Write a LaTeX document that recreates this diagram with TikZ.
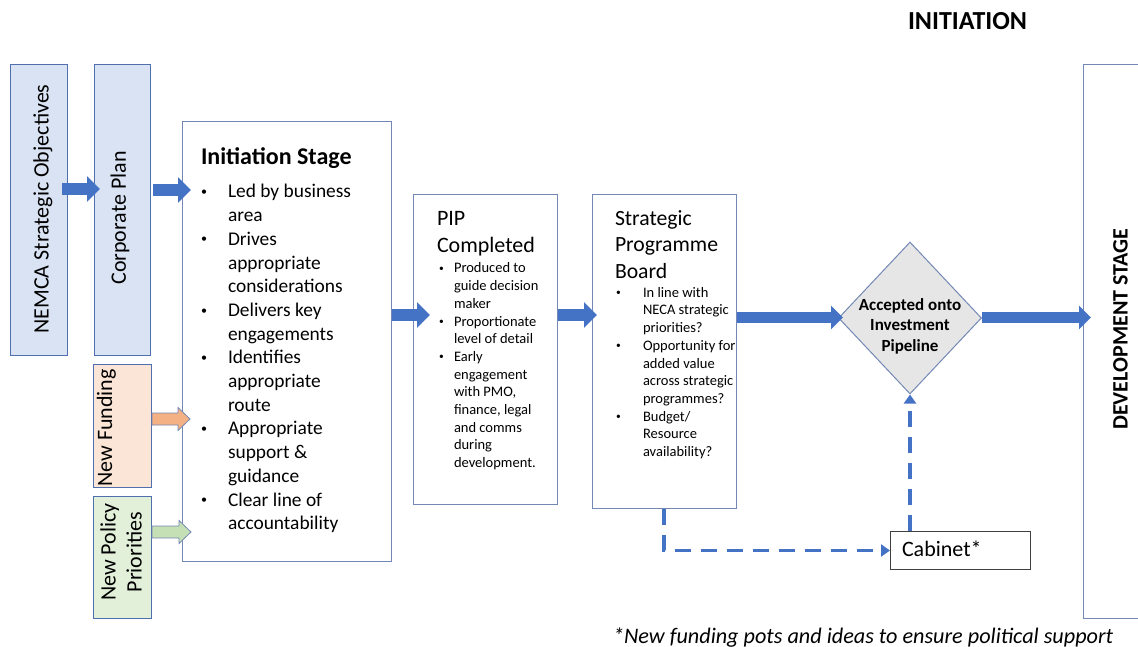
\documentclass[tikz,border=0pt]{standalone}
\usepackage{fontspec}
\setmainfont{Carlito}
\usetikzlibrary{arrows.meta,shapes.geometric,calc}
\definecolor{arrblue}{HTML}{4472C4}
\definecolor{edgeA}{HTML}{4F6FAE}
\definecolor{edgeB}{HTML}{7388B5}
\definecolor{fillBlue}{HTML}{DAE3F3}
\definecolor{fillPeach}{HTML}{FBE5D6}
\definecolor{fillGreen}{HTML}{E2F0D9}
\definecolor{arrOrange}{HTML}{F4B183}
\definecolor{arrGreen}{HTML}{C5E0B4}
\definecolor{diaGray}{HTML}{E7E6E6}
\definecolor{cabEdge}{HTML}{404040}
\newcommand\bigbul{\raisebox{2.4pt}{\fontsize{12}{12}\selectfont\textbullet}}
\newcommand\smallbul{\raisebox{1.8pt}{\fontsize{9.5}{10}\selectfont\textbullet}}
\begin{document}
\begin{tikzpicture}[x=1pt,y=-1pt,
  sidebox/.style={draw=edgeA,line width=1pt,anchor=north west,inner sep=0pt},
  stagebox/.style={draw=edgeB,line width=1pt,fill=white,anchor=north west,inner sep=0pt},
  txt/.style={inner sep=0pt,outer sep=0pt},
  bigarrow/.style={draw=arrblue,line width=12pt,-{Triangle[length=13pt,width=25pt]}},
  fatarrow/.style={draw=arrblue,line width=11pt,-{Triangle[length=12pt,width=23pt]}},
  dashline/.style={draw=arrblue,line width=3.5pt,dash pattern=on 16pt off 10pt,-{Triangle[length=9pt,width=12pt]}},
  outarrow/.style={draw=edgeB,line width=0.8pt,line join=miter}
]
\useasboundingbox (0,0) rectangle (1138,647);

% ---- boxes ----
\node[sidebox,fill=fillBlue,minimum width=57pt,minimum height=291pt] (nemca) at (10,64) {};
\node[sidebox,fill=fillBlue,minimum width=56pt,minimum height=291pt] (corp) at (94,64) {};
\node[sidebox,fill=fillPeach,minimum width=58pt,minimum height=123pt] (fund) at (93,364) {};
\node[sidebox,fill=fillGreen,minimum width=58pt,minimum height=122pt] (pol) at (93,496) {};
\node[stagebox,minimum width=209pt,minimum height=440pt] (init) at (182,121) {};
\node[stagebox,minimum width=144pt,minimum height=310pt] (pip) at (413,194) {};
\node[stagebox,minimum width=144pt,minimum height=314pt] (spb) at (592,194) {};
\node[diamond,draw=edgeB,line width=1pt,fill=diaGray,minimum width=143pt,minimum height=152pt,inner sep=0pt] (dia) at (910,318) {};
\node[stagebox,minimum width=62pt,minimum height=554pt] (dev) at (1083,64) {};
\node[draw=cabEdge,line width=1pt,anchor=north west,inner sep=0pt,minimum width=140pt,minimum height=38pt,fill=white] (cab) at (890,531) {};

% ---- rotated side texts ----
\node[txt,rotate=90,font=\fontsize{22}{26}\selectfont] (tnemca) at (43,209) {NEMCA Strategic Objectives};
\node[txt,rotate=90,font=\fontsize{22}{26}\selectfont] (tcorp) at (120,218) {Corporate Plan};
\node[txt,rotate=90,font=\fontsize{22}{26}\selectfont] (tfund) at (106.5,428) {New Funding};
\node[txt,rotate=90,align=center,font=\fontsize{22}{26}\selectfont] (tpol) at (121,552) {New Policy\\Priorities};

% ---- Initiation stage text ----
\node[txt,anchor=base west,font=\bfseries\fontsize{24}{29}\selectfont] (tinit) at (201,165) {Initiation Stage};
\node[txt,anchor=north west,font=\fontsize{19.4}{23.7}\selectfont] (linit) at (201,181.4) {%
\begin{tabular}{@{}p{27pt}@{}l@{}}
\bigbul & Led by business\\
 & area\\
\bigbul & Drives\\
 & appropriate\\
 & considerations\\
\bigbul & Delivers key\\
 & engagements\\
\bigbul & Identifies\\
 & appropriate\\
 & route\\
\bigbul & Appropriate\\
 & support \&\\
 & guidance\\
\bigbul & Clear line of\\
 & accountability
\end{tabular}};

% ---- PIP text ----
\node[txt,anchor=north west,font=\fontsize{22}{27}\selectfont] (tpip) at (437,206.1) {%
\begin{tabular}{@{}l@{}}PIP\\Completed\end{tabular}};
\node[txt,anchor=north west,font=\fontsize{14.5}{17.7}\selectfont] (lpip) at (439,260.6) {%
\begin{tabular}{@{}p{15pt}@{}l@{}}
\smallbul & Produced to\\
 & guide decision\\
 & maker\\
\smallbul & Proportionate\\
 & level of detail\\
\smallbul & Early\\
 & engagement\\
 & with PMO,\\
 & finance, legal\\
 & and comms\\
 & during\\
 & development.
\end{tabular}};

% ---- SPB text ----
\node[txt,anchor=north west,font=\fontsize{21.7}{26.5}\selectfont] (tspb) at (615,206.5) {%
\begin{tabular}{@{}l@{}}Strategic\\Programme\\Board\end{tabular}};
\node[txt,anchor=north west,font=\fontsize{14.5}{17.7}\selectfont] (lspb) at (616,284.9) {%
\begin{tabular}{@{}p{27pt}@{}l@{}}
\smallbul & In line with\\
 & NECA strategic\\
 & priorities?\\
\smallbul & Opportunity for\\
 & added value\\
 & across strategic\\
 & programmes?\\
\smallbul & Budget/\\
 & Resource\\
 & availability?
\end{tabular}};

% ---- diamond text ----
\node[txt,anchor=north,font=\bfseries\fontsize{17}{20.5}\selectfont] (tdia) at (910,295.7) {%
\begin{tabular}{@{}c@{}}Accepted onto\\Investment\\Pipeline\end{tabular}};

% ---- other texts ----
\node[txt,anchor=base west,font=\fontsize{22}{26}\selectfont] (tcab) at (902,556.5) {Cabinet*};
\node[txt,anchor=base west,font=\bfseries\fontsize{26}{30}\selectfont] (thead) at (908,29.3) {INITIATION};
\node[txt,rotate=90,font=\bfseries\fontsize{22}{26}\selectfont] (tdev) at (1120.5,329) {DEVELOPMENT STAGE};
\node[txt,anchor=base west,font=\itshape\fontsize{22.2}{26}\selectfont] (tnote) at (613,643) {*New funding pots and ideas to ensure political support};

% ---- row coordinates ----
\coordinate (r1) at (0,189);
\coordinate (r2) at (0,190);
\coordinate (r3) at (0,315);
\coordinate (r4) at (0,317.5);
\coordinate (c1) at (664,0);

% ---- blue block arrows ----
\draw[bigarrow] ($(nemca.east |- r1)+(-6,0)$) -- ($(corp.west |- r1)+(6,0)$);
\draw[bigarrow] ($(corp.east |- r2)+(2,0)$) -- ($(init.west |- r2)+(9,0)$);
\draw[bigarrow] (init.east |- r3) -- ($(pip.west |- r3)+(17,0)$);
\draw[bigarrow] (pip.east |- r3) -- ($(spb.west |- r3)+(5,0)$);
\draw[fatarrow] (spb.east |- r4) -- ($(dia.west |- r4)+(5,0)$);
\draw[fatarrow] (dia.east |- r4) -- ($(dev.west |- r4)+(8,0)$);

% ---- outlined block arrows ----
\draw[outarrow,fill=arrOrange] (fund.east |- 0,419) ++(0,-6) -- ++(26,0) -- ++(0,-5.5) -- ++(12,11.5) -- ++(-12,11.5) -- ++(0,-5.5) -- ++(-26,0) -- cycle;
\draw[outarrow,fill=arrGreen] (pol.east |- 0,532) ++(0,-6) -- ++(27,0) -- ++(0,-5.5) -- ++(12,11.5) -- ++(-12,11.5) -- ++(0,-5.5) -- ++(-27,0) -- cycle;

% ---- dashed connectors ----
\draw[dashline] (spb.south -| c1) |- (cab.west);
\draw[dashline] (dia.south |- cab.north) -- (dia.south);
\end{tikzpicture}
\end{document}
